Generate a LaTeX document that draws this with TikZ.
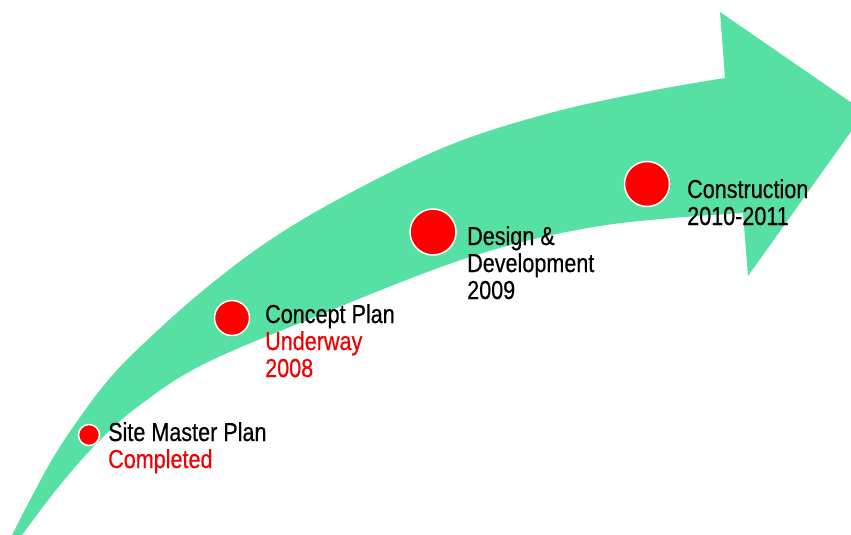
\documentclass[tikz,border=0pt]{standalone}
\usepackage{fontspec}
\setmainfont{Liberation Sans}[FakeStretch=0.83,FakeBold=0.5]
\definecolor{arrowgreen}{RGB}{86,224,164}
\definecolor{dotred}{RGB}{255,0,0}
\definecolor{labelred}{RGB}{240,0,0}
\begin{document}
\begin{tikzpicture}[x=1pt,y=-1pt,
  milestone/.style={circle,fill=dotred,draw=white,line width=1.5pt,inner sep=0pt},
  label/.style={anchor=base west,align=left,inner sep=0pt,font=\fontsize{26}{27}\selectfont}]
\useasboundingbox (0,0) rectangle (851,535);
\clip (0,0) rectangle (851,535);
% curved arrow
\fill[arrowgreen] plot[smooth,tension=0.6] coordinates {(12,535) (50,463) (83,413) (110,378) (140,347) (200,293) (270,240) (350,193) (450,145) (550,113) (650,91) (725,78)}
  -- (720,12) -- (865,112) -- (748,276) -- (743,213)
  -- plot[smooth,tension=0.6] coordinates {(743,213) (600,226) (467,258) (300,323) (200,366) (140,405) (100,440) (60,485) (22,535)}
  -- cycle;
% milestones
\node[milestone,minimum size=21pt] (m1) at (89,435) {};
\node[milestone,minimum size=35pt] (m2) at (232,318) {};
\node[milestone,minimum size=46pt] (m3) at (433,232) {};
\node[milestone,minimum size=45pt] (m4) at (647,184) {};
% labels (anchored at the baseline of the last line)
\node[label] (t1) at (108,468) {Site Master Plan\\\textcolor{labelred}{Completed}};
\node[label] (t2) at (265,377) {Concept Plan\\\textcolor{labelred}{Underway}\\\textcolor{labelred}{2008}};
\node[label] (t3) at (467,299) {Design \&\\Development\\2009};
\node[label] (t4) at (687,225) {Construction\\2010-2011};
\end{tikzpicture}
\end{document}
